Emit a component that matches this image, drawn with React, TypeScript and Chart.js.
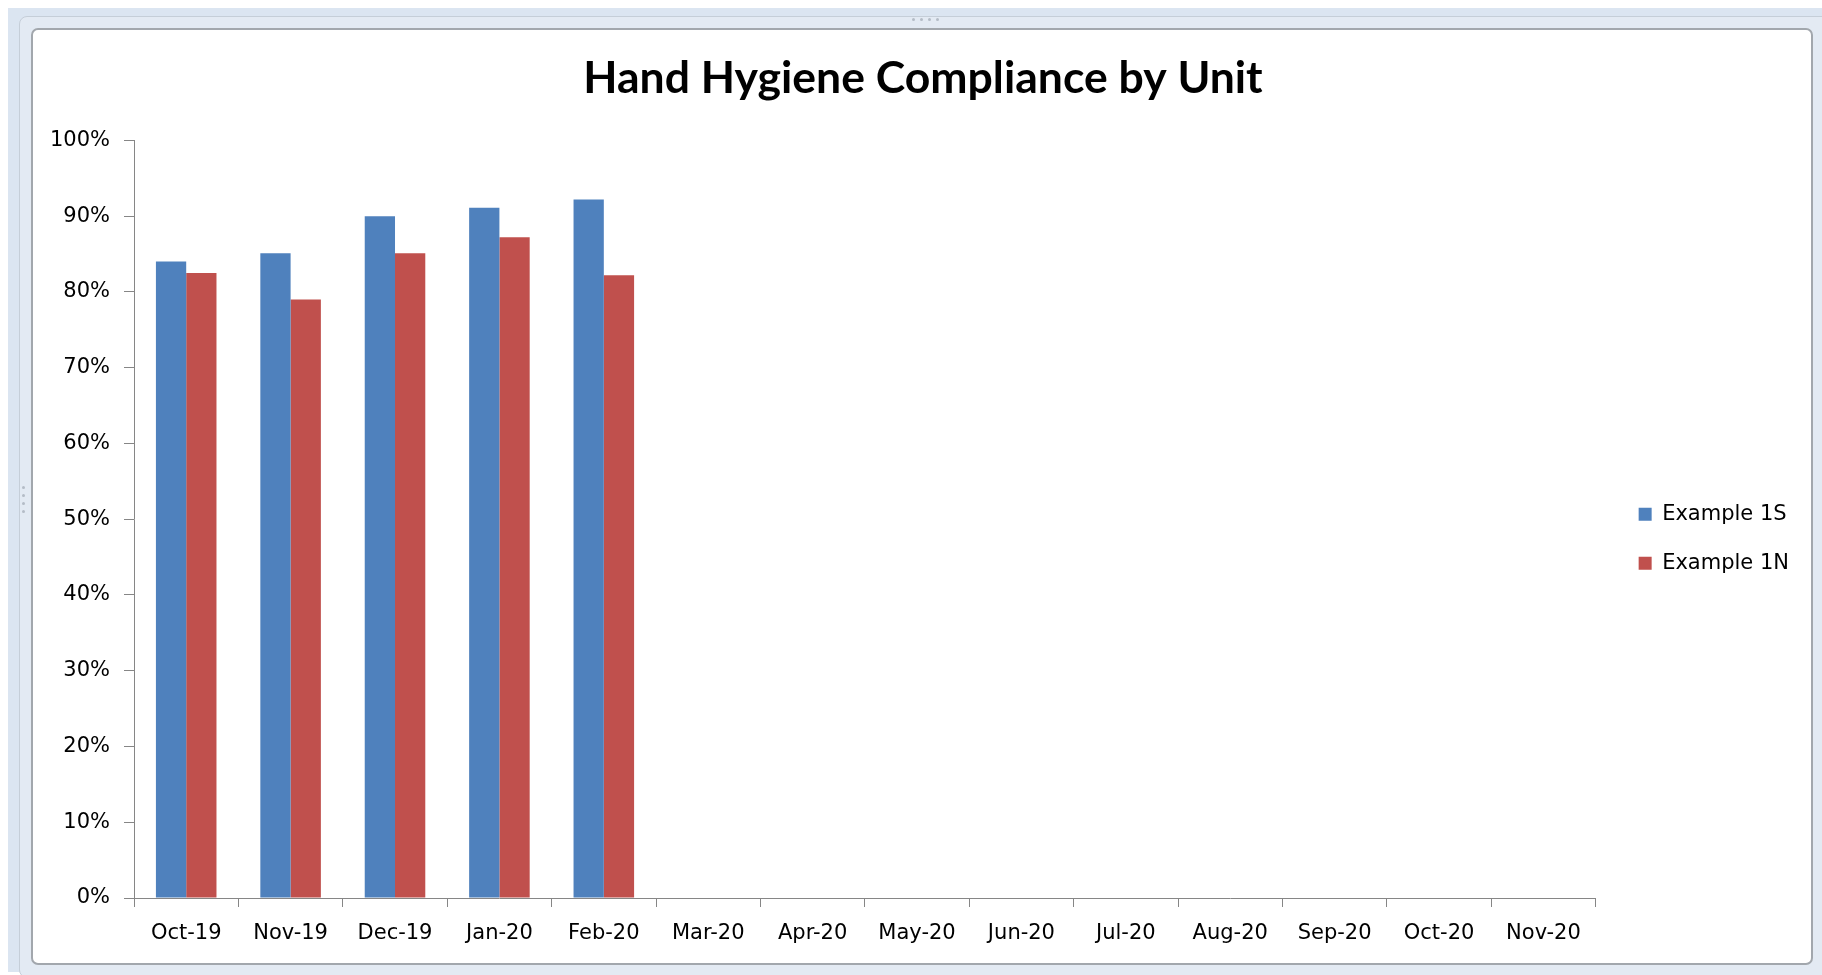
import React, { useEffect, useRef } from "react";
import { Chart, registerables } from "chart.js";

Chart.register(...registerables);

const categories = [
  "Oct-19", "Nov-19", "Dec-19", "Jan-20", "Feb-20", "Mar-20", "Apr-20",
  "May-20", "Jun-20", "Jul-20", "Aug-20", "Sep-20", "Oct-20", "Nov-20",
];
const series1SLabel = "Example 1S";
const series1NLabel = "Example 1N";
const series1S: (number | null)[] = [84.0, 85.1, 90.0, 91.1, 92.2, null, null, null, null, null, null, null, null, null];
const series1N: (number | null)[] = [82.5, 79.0, 85.1, 87.2, 82.2, null, null, null, null, null, null, null, null, null];
const yTicks = [0, 10, 20, 30, 40, 50, 60, 70, 80, 90, 100];
const titleText = "Hand Hygiene Compliance by Unit";

const TITLE_FONT = "Lato, 'Noto Sans', sans-serif";
const FONT = "'DejaVu Sans', sans-serif";
const AXIS = "#868686";

export default function App() {
  const ref = useRef<HTMLCanvasElement | null>(null);

  useEffect(() => {
    document.body.style.overflow = "hidden";
    const canvas = ref.current;
    if (!canvas) return;
    const chart = new Chart(canvas, {
      type: "bar",
      data: {
        labels: categories,
        datasets: [
          { label: series1SLabel, data: series1S, backgroundColor: "#4f81bd", borderWidth: 0 },
          { label: series1NLabel, data: series1N, backgroundColor: "#c0504d", borderWidth: 0 },
        ],
      },
      options: {
        animation: false,
        responsive: false,
        layout: { padding: { left: 14, right: 12, top: 0, bottom: 5 } },
        datasets: { bar: { categoryPercentage: 0.58, barPercentage: 1 } },
        plugins: {
          tooltip: { enabled: false },
          title: {
            display: true,
            text: titleText,
            color: "#000",
            font: { family: TITLE_FONT, size: 44.5, weight: "bold" },
            padding: { top: 22, bottom: 35 },
          },
          legend: {
            position: "right",
            fullSize: false,
            title: { display: true, text: "", font: { size: 10, lineHeight: 1.2 }, padding: { top: 13, bottom: 14 } },
            labels: {
              color: "#000",
              font: { family: FONT, size: 21 },
              boxWidth: 13,
              boxHeight: 13,
              padding: 28,
            },
          },
        },
        scales: {
          x: {
            grid: { display: true, drawOnChartArea: false, drawTicks: true, tickLength: 9, color: AXIS, offset: true },
            border: { display: true, color: AXIS, width: 1 },
            ticks: { color: "#000", font: { family: FONT, size: 21 }, padding: 14, maxRotation: 0, autoSkip: false },
            afterFit: (s: any) => { s.height = 60; },
          },
          y: {
            min: 0,
            max: 100,
            afterBuildTicks: (s: any) => { s.ticks = yTicks.map((v) => ({ value: v })); },
            grid: { display: true, drawOnChartArea: false, drawTicks: true, tickLength: 10, color: AXIS },
            border: { display: true, color: AXIS, width: 1 },
            ticks: { color: "#000", font: { family: FONT, size: 21 }, padding: 14, callback: (v: any) => `${v}%` },
            afterFit: (s: any) => { s.width = 87; },
          },
          y2: {
            position: "right",
            display: true,
            grid: { display: false, drawTicks: false },
            border: { display: false },
            ticks: { display: false },
            afterFit: (s: any) => { s.width = 15; },
          },
        },
      },
    });
    return () => chart.destroy();
  }, []);

  const dot = (left: number, top: number) => (
    <div key={`${left}-${top}`} style={{ position: "absolute", left, top, width: 3, height: 3, borderRadius: 2, background: "#b4bcc6" }} />
  );

  return (
    <div style={{ position: "absolute", left: 0, top: 0, width: 1822, height: 975, background: "#fff", overflow: "hidden" }}>
      <div style={{ position: "absolute", left: 8, top: 8, width: 1814, height: 964, background: "#dbe5f1" }} />
      <div style={{ position: "absolute", left: 19, top: 16, width: 1810, height: 960, border: "1px solid #c5ced8", borderRadius: 8, background: "#e3eaf3" }} />
      {[912, 920, 928, 936].map((x) => dot(x, 18))}
      {[486, 494, 502, 510].map((y) => dot(22, y))}
      <div style={{ position: "absolute", left: 31, top: 28, width: 1778, height: 933, border: "2px solid #a2a7ad", borderRadius: 7, background: "#fff", overflow: "hidden" }}>
        <canvas ref={ref} width={1778} height={933} style={{ display: "block", width: 1778, height: 933 }} />
      </div>
    </div>
  );
}
